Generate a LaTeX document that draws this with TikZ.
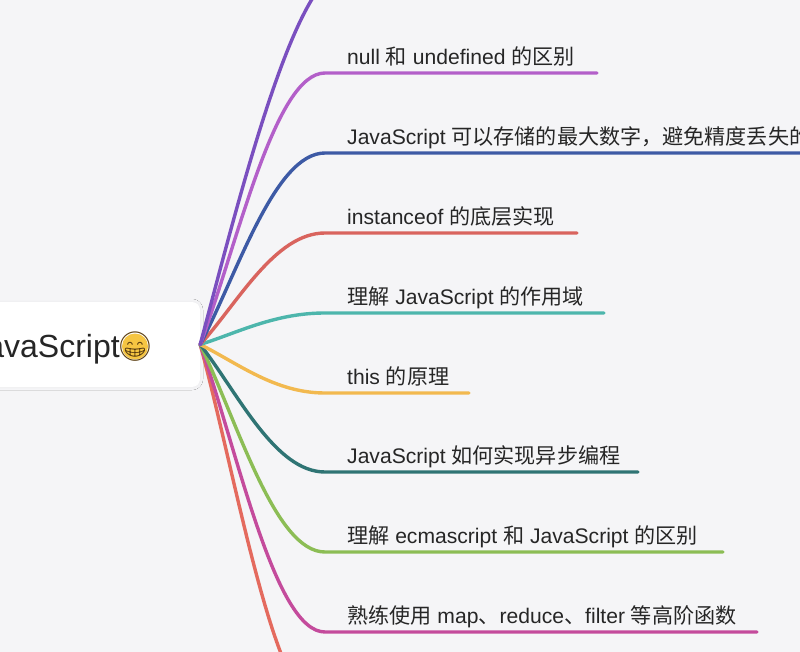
\documentclass[tikz,border=0pt]{standalone}
\usepackage{fontspec}
\setmainfont{Liberation Sans}
\newfontfamily\cjk{Noto Sans CJK SC}
\newfontfamily\emo{Noto Emoji}
\usetikzlibrary{shadows.blur}
\definecolor{bg}{HTML}{F5F5F7}
\definecolor{txt}{HTML}{262626}
\definecolor{cPurple}{HTML}{7A4FBF}
\definecolor{cOrchid}{HTML}{B35FC9}
\definecolor{cBlue}{HTML}{3D5AA5}
\definecolor{cCoral}{HTML}{D9645E}
\definecolor{cTeal}{HTML}{4DB6AC}
\definecolor{cYellow}{HTML}{F2B94F}
\definecolor{cDTeal}{HTML}{2F7474}
\definecolor{cGreen}{HTML}{8CBD55}
\definecolor{cMagenta}{HTML}{C44B9C}
\definecolor{cSalmon}{HTML}{E46A5E}
\definecolor{emoY}{HTML}{F5C542}
\definecolor{emoB}{HTML}{5A3D10}
\begin{document}
\begin{tikzpicture}[x=1pt,y=-1pt,
  br/.style={line width=3.4pt, line cap=round},
  lbl/.style={anchor=base west, inner sep=0pt, text=txt, font=\fontsize{21.1}{25}\selectfont},
  rootbox/.style={minimum width=220pt, minimum height=85pt, inner sep=0pt, rounded corners=8pt, fill=white,
    blur shadow={shadow xshift=0pt, shadow yshift=0pt, shadow blur steps=10, shadow blur radius=3pt, shadow opacity=5}},
]
\useasboundingbox (0,0) rectangle (800,652);
\fill[bg] (0,0) rectangle (800,652);

% root
\node[rootbox] (root) at (90,344.5) {};
\node[anchor=base east, inner sep=0pt, text=txt, font=\fontsize{32}{36}\selectfont] (rtext) at (120,357) {JavaScript};
\fill[emoY] (135,346.5) circle (13pt);
\node[inner sep=0pt, text=emoB, font=\emo\fontsize{29}{29}\selectfont] (emoji) at (135,346.5) {😁};

% branch end coordinates
\coordinate (s0) at (345,-30);  \coordinate (e0) at (600,-30);
\coordinate (s1) at (325,73);   \coordinate (e1) at (597,73);
\coordinate (s2) at (325,153);  \coordinate (e2) at (830,153);
\coordinate (s3) at (325,233);  \coordinate (e3) at (577,233);
\coordinate (s4) at (325,313);  \coordinate (e4) at (604,313);
\coordinate (s5) at (325,393);  \coordinate (e5) at (469,393);
\coordinate (s6) at (325,472);  \coordinate (e6) at (638,472);
\coordinate (s7) at (325,552);  \coordinate (e7) at (723,552);
\coordinate (s8) at (325,632);  \coordinate (e8) at (757,632);
\coordinate (s9) at (325,712);  \coordinate (e9) at (600,712);

% connectors
\draw[br, cSalmon]  (root.east) .. controls +(38,140)  and +(-50,0) .. (s9) -- (e9);
\draw[br, cMagenta] (root.east) .. controls +(38,109)  and +(-50,0) .. (s8) -- (e8);
\draw[br, cGreen]   (root.east) .. controls +(38,79)   and +(-50,0) .. (s7) -- (e7);
\draw[br, cDTeal]   (root.east) .. controls +(38,49)   and +(-50,0) .. (s6) -- (e6);
\draw[br, cYellow]  (root.east) .. controls +(38,19)   and +(-50,0) .. (s5) -- (e5);
\draw[br, cTeal]    (root.east) .. controls +(38,-12)  and +(-50,0) .. (s4) -- (e4);
\draw[br, cCoral]   (root.east) .. controls +(38,-42)  and +(-50,0) .. (s3) -- (e3);
\draw[br, cBlue]    (root.east) .. controls +(38,-73)  and +(-50,0) .. (s2) -- (e2);
\draw[br, cOrchid]  (root.east) .. controls +(38,-103) and +(-50,0) .. (s1) -- (e1);
\draw[br, cPurple]  (root.east) .. controls +(38,-142) and +(-50,0) .. (s0) -- (e0);

% labels
\node[lbl] (l1) at (347,64.5)  {null {\cjk 和} undefined {\cjk 的区别}};
\node[lbl] (l2) at (347,144.5) {JavaScript {\cjk 可以存储的最大数字，避免精度丢失的}};
\node[lbl] (l3) at (347,224.5) {instanceof {\cjk 的底层实现}};
\node[lbl] (l4) at (347,304.5) {{\cjk 理解} JavaScript {\cjk 的作用域}};
\node[lbl] (l5) at (347,384.5) {this {\cjk 的原理}};
\node[lbl] (l6) at (347,463.5) {JavaScript {\cjk 如何实现异步编程}};
\node[lbl] (l7) at (347,543.5) {{\cjk 理解} ecmascript {\cjk 和} JavaScript {\cjk 的区别}};
\node[lbl] (l8) at (347,623.5) {{\cjk 熟练使用} map{\cjk 、}reduce{\cjk 、}filter {\cjk 等高阶函数}};
\end{tikzpicture}
\end{document}
